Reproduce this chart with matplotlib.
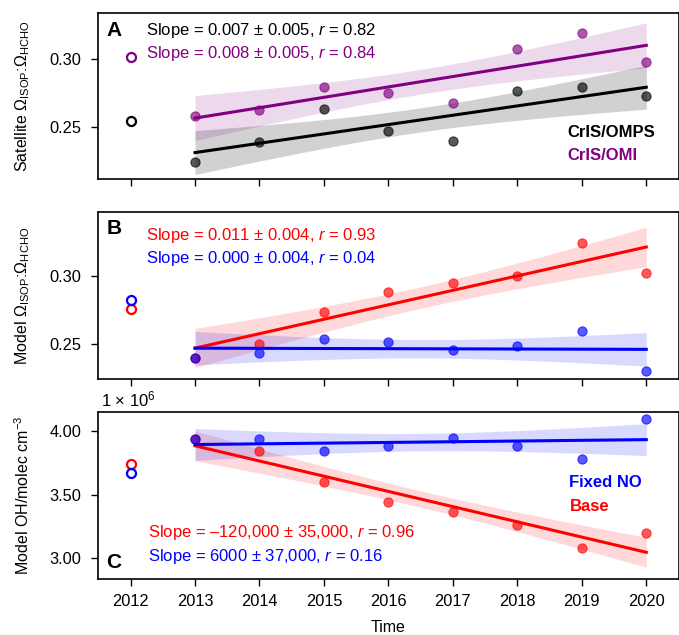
import numpy as np
import matplotlib
matplotlib.use('Agg')
import matplotlib.pyplot as plt

plt.rcParams['font.family'] = ['Liberation Sans', 'DejaVu Sans']
plt.rcParams['mathtext.fontset'] = 'custom'
plt.rcParams['mathtext.rm'] = 'Liberation Sans'
plt.rcParams['mathtext.it'] = 'Liberation Sans:italic'
plt.rcParams['mathtext.bf'] = 'Liberation Sans:bold'

years = [2013, 2014, 2015, 2016, 2017, 2018, 2019, 2020]
ref_year = 2012
xtick_years = [2012, 2013, 2014, 2015, 2016, 2017, 2018, 2019, 2020]

# panel A - satellite ratio
sat_omps = [0.2239, 0.2388, 0.2634, 0.2473, 0.2395, 0.2766, 0.2795, 0.2732]
sat_omi = [0.2580, 0.2624, 0.2793, 0.2749, 0.2680, 0.3078, 0.3195, 0.2983]
sat_omps_2012 = 0.2541
sat_omi_2012 = 0.3017

# panel B - model ratio
mod_base = [0.2402, 0.2505, 0.2733, 0.2880, 0.2949, 0.3000, 0.3240, 0.3022]
mod_fixed = [0.2402, 0.2432, 0.2540, 0.2515, 0.2461, 0.2488, 0.2593, 0.2302]
mod_base_2012 = 0.2760
mod_fixed_2012 = 0.2823

# panel C - model OH (x 1e6 molec cm-3)
oh_base = [3.939, 3.844, 3.596, 3.439, 3.362, 3.263, 3.080, 3.199]
oh_fixed = [3.939, 3.942, 3.844, 3.883, 3.950, 3.880, 3.780, 4.096]
oh_base_2012 = 3.745
oh_fixed_2012 = 3.671

PURPLE = '#800080'
RED = '#ff0000'
BLUE = '#0000ff'
BLACK = '#000000'

FS = 12


def reg_band(x, y):
    """least squares line plus ~95% confidence band (normal approx, like seaborn bootstrap)"""
    x = np.asarray(x, float)
    y = np.asarray(y, float)
    b, a = np.polyfit(x, y, 1)
    xs = np.linspace(x.min(), x.max(), 100)
    n = len(x)
    s = np.sqrt(np.sum((y - (a + b * x)) ** 2) / (n - 2))
    se = s * np.sqrt(1 / n + (xs - x.mean()) ** 2 / np.sum((x - x.mean()) ** 2))
    return xs, a + b * xs, 1.96 * se


def draw_series(ax, y, y0, color, band_alpha=0.15):
    xs, yl, ci = reg_band(years, y)
    ax.fill_between(xs, yl - ci, yl + ci, color=color, alpha=band_alpha, lw=0)
    ax.scatter(years, y, s=44, color=color, alpha=0.65, edgecolor=color, linewidth=0.8, zorder=3)
    ax.plot(xs, yl, color=color, lw=2.2, zorder=4)
    ax.plot([ref_year], [y0], 'o', mfc='none', mec=color, mew=1.6, ms=6.5, zorder=5)


fig = plt.figure(figsize=(6.79, 6.35), dpi=100)
L, W = 0.1448, 0.8545
axA = fig.add_axes([L, 0.718, W, 0.262])
axB = fig.add_axes([L, 0.4031, W, 0.2635])
axC = fig.add_axes([L, 0.0882, W, 0.2635])

# A
draw_series(axA, sat_omps, sat_omps_2012, BLACK, 0.18)
draw_series(axA, sat_omi, sat_omi_2012, PURPLE, 0.15)
axA.set_ylim(0.2115, 0.3346)
axA.set_yticks([0.25, 0.30])
axA.set_ylabel('Satellite $\\Omega_{\\mathrm{ISOP}}$:$\\Omega_{\\mathrm{HCHO}}$')
axA.text(0.083, 0.891, 'Slope = 0.007 \u00b1 0.005, $r$ = 0.82', color=BLACK, transform=axA.transAxes, va='center', fontsize=FS)
axA.text(0.083, 0.752, 'Slope = 0.008 \u00b1 0.005, $r$ = 0.84', color=PURPLE, transform=axA.transAxes, va='center', fontsize=FS)
axA.text(0.809, 0.277, 'CrIS/OMPS', color=BLACK, transform=axA.transAxes, va='center', fontsize=12, fontweight='bold')
axA.text(0.809, 0.139, 'CrIS/OMI', color=PURPLE, transform=axA.transAxes, va='center', fontsize=12, fontweight='bold')
axA.text(0.0135, 0.891, 'A', transform=axA.transAxes, va='center', fontsize=15, fontweight='bold')

# B
draw_series(axB, mod_base, mod_base_2012, RED, 0.15)
draw_series(axB, mod_fixed, mod_fixed_2012, BLUE, 0.15)
axB.set_ylim(0.2245, 0.347)
axB.set_yticks([0.25, 0.30])
axB.set_ylabel('Model $\\Omega_{\\mathrm{ISOP}}$:$\\Omega_{\\mathrm{HCHO}}$')
axB.text(0.083, 0.86, 'Slope = 0.011 \u00b1 0.004, $r$ = 0.93', color=RED, transform=axB.transAxes, va='center', fontsize=FS)
axB.text(0.083, 0.72, 'Slope = 0.000 \u00b1 0.004, $r$ = 0.04', color=BLUE, transform=axB.transAxes, va='center', fontsize=FS)
axB.text(0.0135, 0.90, 'B', transform=axB.transAxes, va='center', fontsize=15, fontweight='bold')

# C
draw_series(axC, oh_base, oh_base_2012, RED, 0.15)
draw_series(axC, oh_fixed, oh_fixed_2012, BLUE, 0.15)
axC.set_ylim(2.835, 4.154)
axC.set_yticks([3.0, 3.5, 4.0])
axC.set_ylabel('Model OH/molec cm$^{-3}$')
axC.text(0.005, 1.075, '1 \u00d7 10$^{6}$', transform=axC.transAxes, va='center', fontsize=FS)
axC.text(0.812, 0.577, 'Fixed NO', color=BLUE, transform=axC.transAxes, va='center', fontsize=12, fontweight='bold')
axC.text(0.812, 0.435, 'Base', color=RED, transform=axC.transAxes, va='center', fontsize=12, fontweight='bold')
axC.text(0.085, 0.278, 'Slope = \u2013120,000 \u00b1 35,000, $r$ = 0.96', color=RED, transform=axC.transAxes, va='center', fontsize=FS)
axC.text(0.085, 0.133, 'Slope = 6000 \u00b1 37,000, $r$ = 0.16', color=BLUE, transform=axC.transAxes, va='center', fontsize=FS)
axC.text(0.0135, 0.097, 'C', transform=axC.transAxes, va='center', fontsize=15, fontweight='bold')
axC.set_xlabel('Time', fontsize=11.5, labelpad=8)

for ax in (axA, axB, axC):
    ax.set_xlim(2011.5, 2020.5)
    ax.set_xticks(xtick_years)
    ax.tick_params(direction='out', length=5.2, width=1, labelsize=11.8)
    ax.tick_params(axis='y', pad=7)
    ax.tick_params(axis='x', pad=5.5)
    ax.yaxis.set_major_formatter(matplotlib.ticker.FormatStrFormatter('%.2f'))
    ax.yaxis.set_label_coords(-0.115, 0.5)
    ax.yaxis.label.set_size(11.5)
    for sp in ax.spines.values():
        sp.set_linewidth(1.2)
axA.tick_params(labelbottom=False)
axB.tick_params(labelbottom=False)

fig.savefig('out.png', dpi=100)
